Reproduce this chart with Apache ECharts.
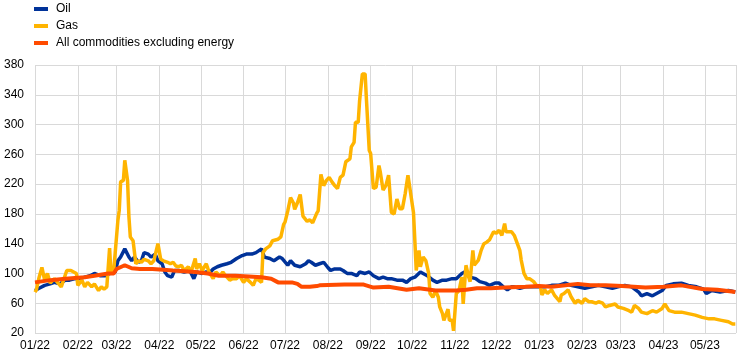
<!DOCTYPE html>
<html>
<head>
<meta charset="utf-8">
<script src="https://cdn.jsdelivr.net/npm/echarts@6/dist/echarts.min.js"></script>
<style>
html,body{margin:0;padding:0;background:#fff;}
#chart{width:744px;height:360px;}
</style>
</head>
<body>
<div id="chart"></div>
<script>
// Day offsets are counted from 1 January 2022
var startDate = '2022-01-01';
var endDayOffset = 507.5;

var seriesNames = ['Oil', 'Gas', 'All commodities excluding energy'];

var yTicks = [20, 60, 100, 140, 180, 220, 260, 300, 340, 380];

var oilDays = [0,3,7,11,14,18,22,25,29,32,36,40,43,47,51,54,58,60,62,65,66,68,70,72,75,77,79,82,84,87,89,92,94,96,99,101,104,108,112,115,117,121,124,127,129,132,135,139,142,146,150,153,157,160,164,166,170,173,177,179,183,185,188,192,196,198,200,203,206,209,212,214,217,221,223,226,229,233,235,239,242,245,249,252,255,258,262,266,269,272,275,279,281,284,288,291,295,298,302,305,309,311,315,319,322,326,329,333,336,339,342,345,347,351,355,360,365,369,374,379,384,388,393,398,403,408,413,418,422,427,432,437,439,443,447,450,454,457,462,468,473,479,484,486,490,496,502,507];
var oilValues = [77,80,84,86,88,86,91,91,93,93,95,97,100,97,97,100,102,117,122,133,135,122,117,122,115,117,128,126,122,126,117,113,102,97,95,104,104,102,104,93,102,100,102,102,106,109,111,113,115,120,124,126,126,128,133,122,120,117,122,120,111,117,111,109,113,117,115,111,113,115,108,104,106,106,104,100,100,97,102,100,102,97,93,95,93,93,91,91,88,93,95,102,100,97,91,88,91,91,93,93,100,102,95,93,89,87,84,87,87,82,78,82,82,80,82,82,82,82,84,84,87,84,82,80,82,84,82,80,82,84,82,75,70,73,70,73,77,84,86,87,84,82,79,73,77,75,77,75];

var gasDays = [0,1,3,5,7,9,11,14,19,23,26,30,31,34,36,38,41,43,46,48,50,52,54,55,57,60,61,62,64,65,66,67,68,69,71,73,75,77,79,82,84,86,89,91,93,96,98,100,102,104,106,108,111,113,116,117,119,121,124,126,129,131,134,136,138,141,143,146,148,151,153,156,158,160,162,164,165,167,170,172,176,178,180,181,183,185,187,188,190,192,194,197,199,201,204,205,207,209,211,213,215,217,219,221,223,225,228,229,231,232,234,235,237,239,240,242,243,245,247,249,250,252,254,256,258,260,262,264,266,268,270,272,274,275,276,278,279,281,283,285,286,288,290,292,293,295,296,299,300,302,303,305,307,309,310,311,312,314,315,317,318,321,323,325,327,329,332,334,336,338,340,341,345,347,350,351,352,354,356,358,361,363,366,367,369,371,374,376,380,381,383,386,388,391,393,396,398,401,403,406,408,411,413,416,420,422,426,430,432,434,437,439,443,447,450,454,456,459,463,468,473,478,483,488,492,497,502,505,507];
var gasValues = [75,78,95,108,91,100,87,93,82,104,104,100,84,91,82,88,82,86,77,82,79,82,134,100,104,171,185,223,225,252,250,225,176,149,144,113,117,115,119,117,113,117,140,119,117,115,113,115,110,109,111,104,109,102,120,106,113,104,113,102,93,102,97,102,97,91,93,93,97,88,93,88,84,93,91,88,128,133,137,144,146,149,166,169,184,202,195,186,195,206,177,170,172,168,181,184,233,218,225,229,223,218,214,229,232,250,254,270,276,303,303,332,368,368,332,265,261,214,216,245,236,212,218,232,182,180,200,187,187,207,232,207,182,144,104,131,109,122,117,100,73,68,77,68,55,46,37,52,37,37,23,73,77,95,59,60,111,95,89,131,111,118,131,140,142,145,156,154,158,151,167,156,156,151,136,131,118,100,93,93,89,84,82,71,78,73,78,71,62,71,73,78,69,60,64,60,66,62,62,60,62,60,55,57,59,55,53,50,48,57,53,48,46,50,48,53,59,50,48,48,46,44,41,39,39,37,35,32,32];

var nonEnergyDays = [0,11,22,36,43,53,57,59,65,70,76,85,93,100,116,125,133,145,155,164,171,176,186,190,193,199,204,206,224,238,245,256,269,278,290,305,312,320,330,340,355,365,374,384,393,402,413,425,442,455,468,483,494,503,507];
var nonEnergyValues = [88,91,93,95,97,100,100,106,111,107,106,106,105,104,102,100,97,97,96,95,93,88,88,86,82,82,83,84,85,85,81,82,78,80,77,77,78,80,80,81,82,83,82,84,86,84,84,83,81,82,84,79,78,76,75];

var DAY = 86400000;
var t0 = Date.parse(startDate + 'T00:00:00Z');
function toPairs(days, vals) {
  var out = [];
  for (var i = 0; i < days.length; i++) out.push([t0 + days[i] * DAY, vals[i]]);
  return out;
}
function pad(n){ return n < 10 ? '0' + n : '' + n; }

var FONT = 'Arial, "Liberation Sans", sans-serif';
var chart = echarts.init(document.getElementById('chart'));
chart.setOption({
  animation: false,
  useUTC: true,
  backgroundColor: '#ffffff',
  color: ['#003299', '#FFB400', '#FF4B00'],
  legend: {
    orient: 'vertical',
    left: 34,
    top: 3,
    padding: 0,
    itemWidth: 14,
    itemHeight: 4,
    itemGap: 5,
    icon: 'rect',
    data: seriesNames,
    textStyle: { fontFamily: FONT, fontSize: 12, color: '#000', padding: [0, 0, 0, 3] }
  },
  grid: { left: 35, right: 8, top: 65, bottom: 27, containLabel: false },
  xAxis: {
    type: 'time',
    min: t0,
    max: t0 + endDayOffset * DAY,
    splitNumber: 17,
    minInterval: 28 * DAY,
    maxInterval: 31 * DAY,
    axisLine: { show: false },
    axisTick: { show: false },
    splitLine: { show: true, lineStyle: { color: '#d9d9d9', width: 1 } },
    axisLabel: {
      fontFamily: FONT, fontSize: 12, color: '#000', margin: 7,
      hideOverlap: false,
      formatter: function (v) {
        var d = new Date(v);
        return pad(d.getUTCMonth() + 1) + '/' + String(d.getUTCFullYear()).slice(2);
      }
    }
  },
  yAxis: {
    type: 'value',
    min: yTicks[0],
    max: yTicks[yTicks.length - 1],
    interval: yTicks[1] - yTicks[0],
    axisLine: { show: false },
    axisTick: { show: false },
    splitLine: { show: true, lineStyle: { color: '#d9d9d9', width: 1 } },
    axisLabel: { fontFamily: FONT, fontSize: 12, color: '#000', margin: 11 }
  },
  series: [
    { name: seriesNames[0], type: 'line', showSymbol: false, data: toPairs(oilDays, oilValues), lineStyle: { width: 3.5 } },
    { name: seriesNames[1], type: 'line', showSymbol: false, data: toPairs(gasDays, gasValues), lineStyle: { width: 3.5 } },
    { name: seriesNames[2], type: 'line', showSymbol: false, data: toPairs(nonEnergyDays, nonEnergyValues), lineStyle: { width: 4 } }
  ]
});
</script>
</body>
</html>
